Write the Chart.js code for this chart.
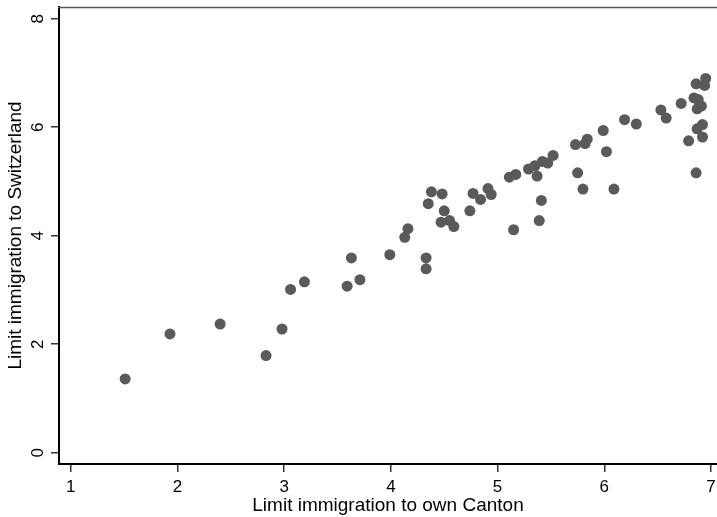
<!DOCTYPE html>
<html>
<head>
<meta charset="utf-8">
<script src="https://cdn.jsdelivr.net/npm/chart.js@4.4.0/dist/chart.umd.min.js"></script>
<style>
  html, body { margin: 0; padding: 0; background: #fff; }
</style>
</head>
<body>
<canvas id="chart" width="717" height="517"></canvas>
<script>
// Values (one entry per canton)
const cantonValues = [1.51, 1.93, 2.40, 2.83, 2.98, 3.06, 3.19, 3.59, 3.71, 3.63, 3.99, 4.13, 4.16, 4.33, 4.33,
  4.38, 4.48, 4.35, 4.50, 4.47, 4.55, 4.59, 4.77, 4.84, 4.91, 4.94, 4.74, 5.11, 5.17, 5.15, 5.29, 5.35, 5.42,
  5.47, 5.52, 5.37, 5.41, 5.39, 5.73, 5.82, 5.84, 5.99, 6.02, 5.75, 5.80, 6.09, 6.19, 6.30, 6.53, 6.58, 6.72,
  6.84, 6.88, 6.87, 6.91, 6.86, 6.95, 6.94, 6.92, 6.87, 6.92, 6.79, 6.86]
const switzerlandValues = [1.36, 2.19, 2.37, 1.79, 2.28, 3.01, 3.15, 3.07, 3.19, 3.59, 3.65, 3.97, 4.13, 3.59, 3.39,
  4.81, 4.77, 4.59, 4.46, 4.25, 4.28, 4.17, 4.78, 4.67, 4.87, 4.76, 4.46, 5.08, 5.13, 4.11, 5.23, 5.29, 5.37,
  5.34, 5.48, 5.10, 4.65, 4.28, 5.68, 5.70, 5.78, 5.94, 5.55, 5.16, 4.86, 4.86, 6.14, 6.06, 6.32, 6.17, 6.44,
  6.54, 6.51, 6.34, 6.39, 6.80, 6.90, 6.77, 6.05, 5.97, 5.82, 5.75, 5.16]
const xTickValues = [1, 2, 3, 4, 5, 6, 7]
const yTickValues = [0, 2, 4, 6, 8]

const FONT = '"Liberation Sans", Arial, Helvetica, sans-serif'

// y tick labels are drawn rotated (reading upward), like the Stata original
const rotatedYTicks = {
  id: "rotatedYTicks",
  afterDraw(chart) {
    const ctx = chart.ctx
    const y = chart.scales.y
    ctx.save()
    ctx.font = "17px " + FONT
    ctx.fillStyle = "#000"
    ctx.textAlign = "center"
    ctx.textBaseline = "alphabetic"
    yTickValues.forEach(v => {
      ctx.save()
      ctx.translate(42.5, y.getPixelForValue(v))
      ctx.rotate(-Math.PI / 2)
      ctx.fillText(String(v), 0, 0)
      ctx.restore()
    })
    ctx.restore()
  },
}

// thin line closing the plot region at the top
const topRule = {
  id: "topRule",
  afterDraw(chart) {
    const { ctx, chartArea } = chart
    ctx.save()
    ctx.strokeStyle = "#555"
    ctx.lineWidth = 1.5
    ctx.beginPath()
    ctx.moveTo(chartArea.left - 1, chartArea.top + 0.5)
    ctx.lineTo(chart.width, chartArea.top + 0.5)
    ctx.stroke()
    ctx.restore()
  },
}

new Chart(document.getElementById("chart"), {
  type: "scatter",
  data: {
    datasets: [{
      data: cantonValues.map((x, i) => ({ x: x, y: switzerlandValues[i] })),
      backgroundColor: "#5a5a5a",
      borderWidth: 0,
      pointRadius: 5.5,
      pointHoverRadius: 5.5,
    }],
  },
  options: {
    responsive: false,
    animation: false,
    devicePixelRatio: 1,
    // no automatic room for the markers: the plot runs to the right edge
    layout: { autoPadding: false, padding: { top: 7, left: 0, right: 0, bottom: 0 } },
    plugins: {
      legend: { display: false },
      tooltip: { enabled: false },
    },
    scales: {
      x: {
        type: "linear",
        min: 0.89,
        max: 7.056,
        afterBuildTicks: s => { s.ticks = xTickValues.map(v => ({ value: v })) },
        // fixed height, and no extra room kept for the overhanging end labels
        afterFit: s => { s.height = 53; s.paddingLeft = 0; s.paddingRight = 0 },
        grid: { display: true, drawOnChartArea: false, drawTicks: true, tickLength: 8, color: "#333", lineWidth: 1.5 },
        border: { display: true, color: "#000", width: 2 },
        ticks: { color: "#000", font: { family: FONT, size: 17 }, padding: 5, autoSkip: false, maxRotation: 0 },
        title: {
          display: true,
          text: "Limit immigration to own Canton",
          color: "#000",
          font: { family: FONT, size: 19 },
          padding: { top: 0, bottom: 0 },
        },
      },
      y: {
        type: "linear",
        min: -0.209,
        max: 8.217,
        afterBuildTicks: s => { s.ticks = yTickValues.map(v => ({ value: v })) },
        afterFit: s => { s.width = 59; s.paddingTop = 0; s.paddingBottom = 0 },
        grid: { display: true, drawOnChartArea: false, drawTicks: true, tickLength: 8, color: "#333", lineWidth: 1.5 },
        border: { display: true, color: "#000", width: 2 },
        ticks: { display: false },
        title: {
          display: true,
          text: "Limit immigration to Switzerland",
          color: "#000",
          font: { family: FONT, size: 19 },
          padding: { top: 4, bottom: 0 },
        },
      },
    },
  },
  plugins: [rotatedYTicks, topRule],
})
</script>
</body>
</html>
